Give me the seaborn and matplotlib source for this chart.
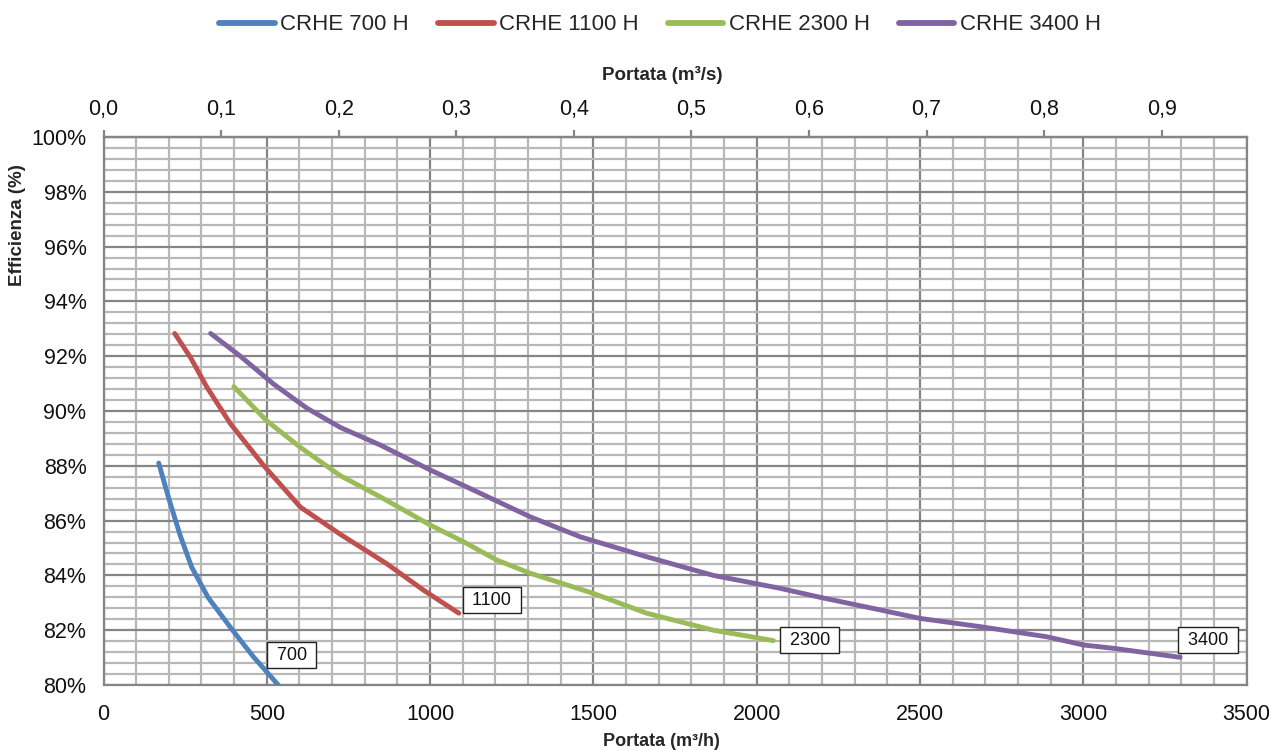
import matplotlib
matplotlib.use("Agg")
import matplotlib.pyplot as plt
import seaborn as sns
import pandas as pd
from matplotlib.ticker import MultipleLocator, FixedLocator, FuncFormatter

# ---- data ----
series_names = ["CRHE 700 H", "CRHE 1100 H", "CRHE 2300 H", "CRHE 3400 H"]
end_labels = ["700", "1100", "2300", "3400"]

x700 = [169, 200, 235, 270, 320, 395, 459, 535]
y700 = [88.1, 86.8, 85.45, 84.3, 83.2, 82.0, 81.03, 80.0]

x1100 = [218, 266, 317, 389, 491, 603, 725, 868, 981, 1088]
y1100 = [92.83, 91.96, 90.86, 89.53, 88.0, 86.49, 85.5, 84.42, 83.45, 82.62]

x2300 = [399, 499, 603, 725, 847, 1000, 1102, 1204, 1306, 1498, 1663, 1867, 2051]
y2300 = [90.89, 89.65, 88.67, 87.64, 86.87, 85.84, 85.23, 84.56, 84.08, 83.35, 82.62, 82.0, 81.62]

x3400 = [328, 419, 521, 623, 725, 847, 1000, 1153, 1306, 1459, 1663, 1867, 2071,
         2194, 2378, 2500, 2684, 2888, 3000, 3092, 3296]
y3400 = [92.83, 92.0, 90.98, 90.1, 89.4, 88.76, 87.85, 87.0, 86.14, 85.41, 84.68, 84.0,
         83.53, 83.2, 82.74, 82.43, 82.13, 81.76, 81.46, 81.34, 81.01]

top_ticks = [0.0, 0.1, 0.2, 0.3, 0.4, 0.5, 0.6, 0.7, 0.8, 0.9]

# label anchor positions (data coords)
label_x = [515, 1114, 2085, 3305]
label_y = [81.08, 83.1, 81.63, 81.63]

colors = ["#4F81BD", "#C0504D", "#9BBB59", "#8064A2"]

frames = []
for name, xs, ys in zip(series_names, [x700, x1100, x2300, x3400], [y700, y1100, y2300, y3400]):
    frames.append(pd.DataFrame({"Portata": xs, "Efficienza": ys, "Serie": name}))
df = pd.concat(frames, ignore_index=True)

sns.set_style("white")
plt.rcParams["font.family"] = ["Liberation Sans", "DejaVu Sans"]

W, H = 1272, 751
fig = plt.figure(figsize=(W / 100, H / 100), dpi=100)
ax = fig.add_axes([103.5 / W, 1 - 685 / H, (1246.7 - 103.5) / W, (685 - 137) / H])

sns.lineplot(data=df, x="Portata", y="Efficienza", hue="Serie", palette=colors,
             hue_order=series_names, sort=False, estimator=None, linewidth=3.5,
             legend=False, ax=ax, zorder=5)
for ln in ax.get_lines():
    ln.set_solid_capstyle("round")
    ln.set_solid_joinstyle("round")

ax.set_xlim(0, 3500)
ax.set_ylim(80, 100)
ax.xaxis.set_major_locator(MultipleLocator(500))
ax.xaxis.set_minor_locator(MultipleLocator(100))
ax.yaxis.set_major_locator(MultipleLocator(2))
ax.yaxis.set_minor_locator(MultipleLocator(0.4))
ax.grid(which="minor", color="#B8B8B8", linewidth=1.6, zorder=0)
ax.grid(which="major", color="#858585", linewidth=1.6, zorder=1)
ax.set_axisbelow(True)
for s in ax.spines.values():
    s.set_color("#858585")
    s.set_linewidth(1.6)

ax.yaxis.set_major_formatter(FuncFormatter(lambda v, p: f"{v:.0f}%"))
ax.tick_params(axis="both", which="major", direction="out", length=5, width=1.6,
               color="#858585", labelsize=15.5, labelcolor="#111111")
ax.tick_params(axis="both", which="minor", length=0)
ax.tick_params(axis="x", pad=9)
ax.tick_params(axis="y", pad=7.3)

ax.set_xlabel("Portata (m³/h)", fontsize=13, fontweight="bold")
ax.xaxis.set_label_coords(661 / W, 1 - 741 / H, transform=fig.transFigure)
ax.xaxis.label.set_va("center")
ax.set_ylabel("Efficienza (%)", fontsize=13.5, fontweight="bold")
ax.yaxis.set_label_coords(18 / W, 1 - 225 / H, transform=fig.transFigure)
ax.yaxis.label.set_va("center")

# secondary (top) axis in m³/s
sec = ax.secondary_xaxis("top", functions=(lambda x: x / 3600.0, lambda x: x * 3600.0))
sec.xaxis.set_major_locator(FixedLocator(top_ticks))
sec.xaxis.set_major_formatter(FuncFormatter(lambda v, p: f"{v:.1f}".replace(".", ",")))
sec.tick_params(axis="x", direction="out", length=5, width=1.6, color="#858585",
                labelsize=15.5, labelcolor="#111111", pad=7)
sec.spines["top"].set_color("#858585")
sec.spines["top"].set_linewidth(1.6)
sec.set_xlabel("Portata (m³/s)", fontsize=13.5, fontweight="bold")
sec.xaxis.set_label_coords(662 / W, 1 - 75 / H, transform=fig.transFigure)
sec.xaxis.label.set_va("center")

# end-of-line labels
for txt, lx, ly in zip(end_labels, label_x, label_y):
    ax.text(lx, ly, f" {txt} ", fontsize=13, ha="left", va="center", color="#111111", zorder=6,
            bbox=dict(boxstyle="square,pad=0.25", facecolor="white", edgecolor="#222222", linewidth=1.0))

# legend
handles = [plt.Line2D([0], [0], color=c, linewidth=4.2, solid_capstyle="round") for c in colors]
fig.legend(handles, series_names, loc="center", bbox_to_anchor=(660 / W, 1 - 25 / H),
           ncol=4, frameon=False, fontsize=16, handlelength=2.5, handletextpad=0.25,
           columnspacing=1.3)

fig.savefig("out.png", dpi=100)
